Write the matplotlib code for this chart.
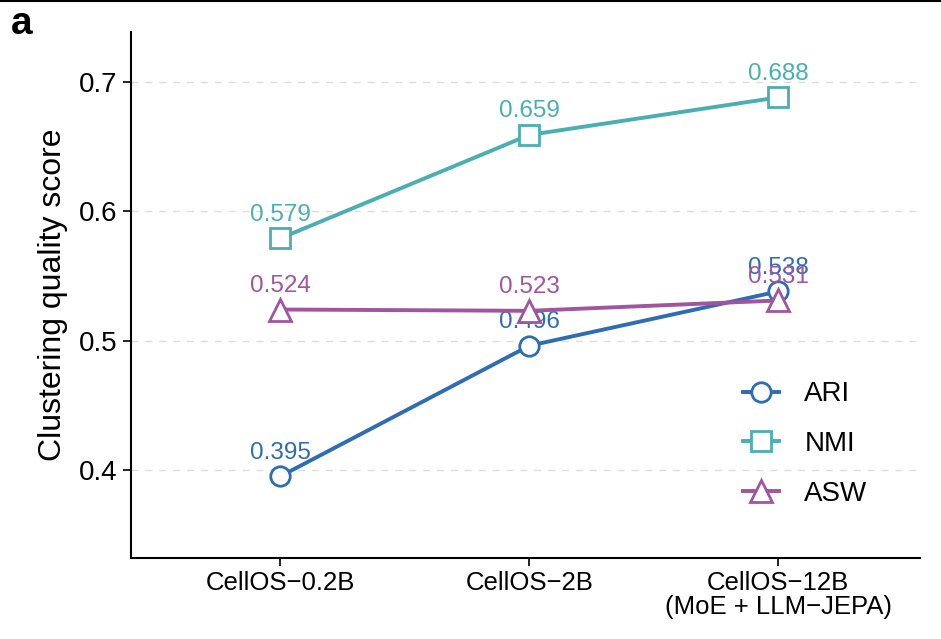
import matplotlib.pyplot as plt
import matplotlib.lines as mlines

models = ["CellOS\u22120.2B", "CellOS\u22122B", "CellOS\u221212B\n(MoE + LLM\u2212JEPA)"]
ari = [0.395, 0.496, 0.538]
nmi = [0.579, 0.659, 0.688]
asw = [0.524, 0.523, 0.531]

series = [
    ("ARI", ari, "#2f6db3", "o", 14),
    ("NMI", nmi, "#4aafb0", "s", 14),
    ("ASW", asw, "#a0559f", "^", 16),
]

plt.rcParams["font.family"] = ["Liberation Sans", "DejaVu Sans"]

fig = plt.figure(figsize=(9.41, 6.39), dpi=100)
ax = fig.add_axes([0.139, 0.127, 0.839, 0.823])

x = [1, 2, 3]
for name, vals, col, mk, ms in series:
    ax.plot(x, vals, color=col, lw=2.8, marker=mk, ms=ms, mfc="white",
            mec=col, mew=2, label=name, zorder=3)
    for xi, v in zip(x, vals):
        ax.annotate(f"{v:.3f}", (xi, v), xytext=(0, 9), textcoords="offset points",
                    ha="center", va="bottom", color=col, fontsize=17.5)

ax.set_xlim(0.40, 3.57)
ax.set_ylim(0.332, 0.7386)
ax.set_xticks(x)
ax.set_xticklabels(models, fontsize=18.5, linespacing=1.0)
ax.set_yticks([0.4, 0.5, 0.6, 0.7])
ax.set_yticklabels(["0.4", "0.5", "0.6", "0.7"], fontsize=20)
ax.set_ylabel("Clustering quality score", fontsize=23, labelpad=8)

ax.yaxis.grid(True, ls=(0, (5, 5)), color="#dddddd", lw=1)
ax.set_axisbelow(True)
for s in ["top", "right"]:
    ax.spines[s].set_visible(False)
for s in ["left", "bottom"]:
    ax.spines[s].set_linewidth(1.5)
ax.tick_params(length=6, width=1.2, colors="black")

handles = [mlines.Line2D([], [], color=c, lw=2.8, marker=m, ms=ms, mfc="white",
                         mec=c, mew=2) for _, _, c, m, ms in series]
ax.legend(handles, [n for n, _, _, _, _ in series], loc="lower right",
          bbox_to_anchor=(0.965, 0.05), frameon=False, fontsize=20,
          handlelength=1.3, handletextpad=0.9, labelspacing=0.85)

fig.text(0.012, 0.99, "a", fontsize=28, fontweight="bold", va="top")
fig.add_artist(mlines.Line2D([0, 1], [0.999, 0.999], color="black", lw=1.5))

fig.savefig("out.png", dpi=100)
